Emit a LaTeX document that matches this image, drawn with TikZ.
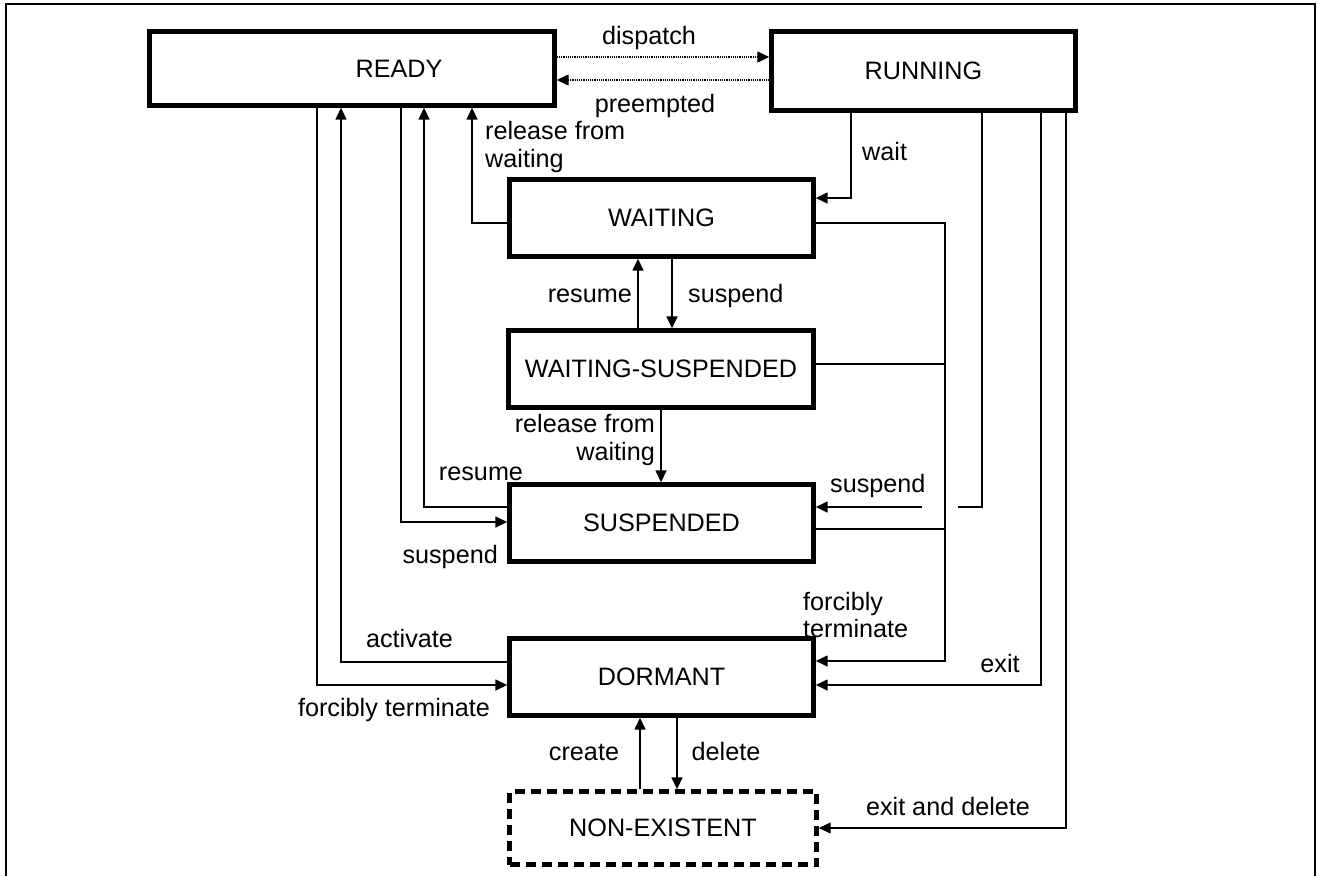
\documentclass[tikz,border=0pt]{standalone}
\usepackage{fontspec}
\setmainfont{Liberation Sans}
\usetikzlibrary{arrows.meta}
\begin{document}
\begin{tikzpicture}[x=1pt,y=-1pt,
  state/.style={draw, line width=4.4pt, inner sep=0pt, minimum width=304pt,
    minimum height=77pt, font=\fontsize{25.2}{27.5}\selectfont},
  lbl/.style={inner sep=0pt, font=\fontsize{25.2}{27.5}\selectfont},
  wire/.style={line width=1.5pt},
  conn/.style={wire, -{Triangle[length=12pt,width=11pt]}},
  fast/.style={line width=1.3pt, dash pattern=on 1.2pt off 1pt,
    -{Triangle[length=12pt,width=11pt]}},
]
\useasboundingbox (0,0) rectangle (1317,876);
% open frame
\draw[line width=2.6pt] (6,876) -- (6,4) -- (1315,4) -- (1315,876);

% states
\node[state, minimum width=405pt, minimum height=74pt] (READY) at (352,68.5) {\hspace*{94pt}READY};
\node[state, minimum height=79pt] (RUN) at (923.5,71) {RUNNING};
\node[state] (WAIT) at (661.5,218) {WAITING};
\node[state, minimum width=305pt] (WS) at (661,369) {WAITING-SUSPENDED};
\node[state] (SUSP) at (661.5,523) {SUSPENDED};
\node[state] (DORM) at (661.5,677) {DORMANT};
\node[state, dash pattern=on 10pt off 6pt, minimum width=307pt, minimum height=73pt] (NE) at (663,828) {NON-EXISTENT};

% columns of the connectors
\coordinate (cFT) at (317,0);
\coordinate (cAct) at (341,0);
\coordinate (cSus) at (401,0);
\coordinate (cRes) at (424,0);
\coordinate (cRel) at (472,0);
\coordinate (cWres) at (638,0);
\coordinate (cWrel) at (661,0);
\coordinate (cWsus) at (672,0);
\coordinate (cCreate) at (640,0);
\coordinate (cDelete) at (677,0);
\coordinate (cWait) at (851,0);
\coordinate (cBus) at (945,0);
\coordinate (cRSus) at (982,0);
\coordinate (cExit) at (1041,0);
\coordinate (cExDel) at (1066,0);
% rows of the connectors
\coordinate (rDisp) at (0,57);
\coordinate (rPre) at (0,80);
\coordinate (rWait) at (0,198);
\coordinate (rWl) at (0,223);
\coordinate (rWSbus) at (0,364);
\coordinate (rResS) at (0,507);
\coordinate (rSusS) at (0,522);
\coordinate (rSbus) at (0,529);
\coordinate (rAct) at (0,662);
\coordinate (rFTr) at (0,661);
\coordinate (rFTl) at (0,685);
\coordinate (rExit) at (0,685);
\coordinate (rExDel) at (0,828);
% ends of the broken suspend line
\coordinate (gapR) at (958,507);
\coordinate (gapL) at (922,507);

% READY <-> RUNNING
\draw[fast] (READY.east |- rDisp) -- (RUN.west |- rDisp);
\draw[fast] (RUN.west |- rPre) -- (READY.east |- rPre);
% RUNNING -> WAITING
\draw[conn] (RUN.south -| cWait) |- (WAIT.east |- rWait);
% WAITING -> READY
\draw[conn] (WAIT.west |- rWl) -| (READY.south -| cRel);
% WAITING <-> WAITING-SUSPENDED
\draw[conn] (WS.north -| cWres) -- (WAIT.south -| cWres);
\draw[conn] (WAIT.south -| cWsus) -- (WS.north -| cWsus);
% WAITING-SUSPENDED -> SUSPENDED
\draw[conn] (WS.south -| cWrel) -- (SUSP.north -| cWrel);
% SUSPENDED <-> READY
\draw[conn] (SUSP.west |- rResS) -| (READY.south -| cRes);
\draw[conn] (READY.south -| cSus) |- (SUSP.west |- rSusS);
% DORMANT <-> READY
\draw[conn] (DORM.west |- rAct) -| (READY.south -| cAct);
\draw[conn] (READY.south -| cFT) |- (DORM.west |- rFTl);
% DORMANT <-> NON-EXISTENT
\draw[conn] (NE.north -| cCreate) -- (DORM.south -| cCreate);
\draw[conn] (DORM.south -| cDelete) -- (NE.north -| cDelete);
% forcibly terminate bus
\draw[conn] (WAIT.east |- rWl) -| (cBus |- rFTr) -- (DORM.east |- rFTr);
\draw[wire] (WS.east |- rWSbus) -- (cBus |- rWSbus);
\draw[wire] (SUSP.east |- rSbus) -- (cBus |- rSbus);
% RUNNING -> SUSPENDED, hopping over the bus
\draw[wire] (RUN.south -| cRSus) |- (gapR);
\draw[conn] (gapL) -- (SUSP.east |- gapL);
% RUNNING -> DORMANT, NON-EXISTENT
\draw[conn] (RUN.south -| cExit) |- (DORM.east |- rExit);
\draw[conn, line width=1.2pt] (RUN.south -| cExDel) |- (NE.east |- rExDel);

% transition labels
\node[lbl, anchor=base] (tDisp) at (649,44) {dispatch};
\node[lbl, anchor=base] (tPre) at (655,112) {preempted};
\node[lbl, anchor=base west] (tWait) at (862,160) {wait};
\node[lbl, anchor=west, align=left] (tRelA) at (485,147) {release from\\waiting};
\node[lbl, anchor=base east] (tResA) at (632,302) {resume};
\node[lbl, anchor=base west] (tSusA) at (688,302) {suspend};
\node[lbl, anchor=east, align=right] (tRelB) at (655,440) {release from\\waiting};
\node[lbl, anchor=base] (tResB) at (481,480) {resume};
\node[lbl, anchor=base east] (tSusB) at (498,563) {suspend};
\node[lbl, anchor=base west] (tSusC) at (830,492) {suspend};
\node[lbl, anchor=base] (tAct) at (409.5,647) {activate};
\node[lbl, anchor=base] (tFTl) at (394,716) {forcibly terminate};
\node[lbl, anchor=west, align=left] (tFTr) at (803,615) {forcibly\\terminate};
\node[lbl, anchor=base] (tExit) at (1000,672) {exit};
\node[lbl, anchor=base] (tCreate) at (584,760) {create};
\node[lbl, anchor=base] (tDelete) at (726,760) {delete};
\node[lbl, anchor=base] (tExDel) at (948,815) {exit and delete};
\end{tikzpicture}
\end{document}
